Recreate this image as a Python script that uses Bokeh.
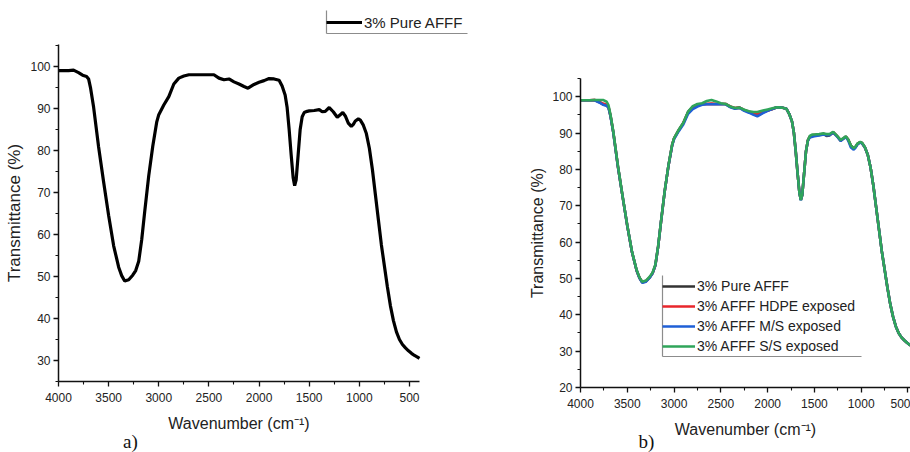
from bokeh.plotting import figure
from bokeh.models import Range1d, FixedTicker, Legend, LegendItem, Label, BoxAnnotation
from bokeh.layouts import row
from bokeh.embed import file_html
from bokeh.resources import INLINE

# ---------------- data ----------------
wavenumber = [4000, 3900, 3850, 3800, 3760, 3720, 3700, 3680, 3650, 3600, 3550, 3500,
              3450, 3400, 3370, 3340, 3300, 3260, 3230, 3200, 3170, 3140, 3100, 3060,
              3020, 3000, 2950, 2900, 2850, 2800, 2750, 2700, 2650, 2600, 2550, 2500,
              2450, 2400, 2350, 2300, 2250, 2200, 2150, 2110, 2050, 2000, 1950, 1900,
              1850, 1800, 1770, 1740, 1720, 1700, 1680, 1660, 1645, 1630, 1610, 1590,
              1570, 1550, 1520, 1500, 1450, 1400, 1370, 1340, 1300, 1260, 1220, 1190,
              1165, 1140, 1110, 1080, 1060, 1040, 1010, 990, 960, 930, 900, 870, 840,
              810, 780, 750, 720, 690, 660, 630, 600, 570, 540, 510, 480, 450, 420, 400]

pure_afff = [99, 99, 99.1, 98.5, 97.9, 97.6, 97, 94.8, 90.3, 80.8, 72.5, 64.5,
             57.3, 52.2, 50.2, 48.9, 49.2, 50.3, 51.4, 53.6, 58.8, 65.5, 74, 81,
             86.8, 88.5, 90.8, 92.8, 95.8, 97.2, 97.7, 98, 98, 98, 98, 98,
             98, 97.2, 96.8, 97, 96.3, 95.8, 95.2, 94.8, 95.7, 96.2, 96.6, 97.1,
             97, 96.7, 95.3, 93.2, 90.2, 85, 79, 73.5, 71.6, 73, 79, 85,
             88, 89, 89.3, 89.4, 89.5, 89.7, 89.2, 89.3, 90.2, 89.2, 87.9, 88.5,
             89, 88.2, 86.5, 85.7, 86.2, 87, 87.5, 87.2, 86, 84, 80.5, 75.5, 69.5,
             63.5, 57.5, 52.5, 47.5, 43, 39.5, 36.8, 35, 33.8, 33, 32.3, 31.7, 31.2, 30.8, 30.5]

hdpe_exposed = [99, 99, 99.1, 98.6, 98.1, 97.8, 97.1, 94.9, 90.3, 80.8, 72.5, 64.5,
                57.3, 52.2, 50.2, 49, 49.3, 50.3, 51.4, 53.6, 58.8, 65.5, 74, 81,
                86.8, 88.5, 90.8, 92.8, 95.7, 97.1, 97.6, 97.9, 98, 98.1, 98, 98,
                98, 97.3, 96.9, 97, 96.3, 95.9, 95.4, 95.1, 95.8, 96.2, 96.6, 97.1,
                97, 96.7, 95.3, 93.2, 90.2, 85, 79, 73.5, 71.7, 73, 79, 85,
                88, 89, 89.4, 89.5, 89.6, 89.8, 89.5, 89.5, 90.2, 89.2, 88, 88.5,
                89, 88.2, 86.5, 85.8, 86.2, 87, 87.5, 87.2, 86, 84, 80.5, 75.5, 69.5,
                63.5, 57.5, 52.5, 47.5, 43, 39.5, 36.8, 35, 33.8, 33, 32.3, 31.7, 31.2, 30.8, 30.5]

ms_exposed = [99, 99, 99, 98.4, 97.8, 97.5, 96.9, 94.7, 90.2, 80.7, 72.5, 64.5,
              57.3, 52.2, 50.1, 48.8, 49.1, 50.2, 51.4, 53.6, 58.8, 65.5, 74, 81,
              86.6, 88.3, 90.5, 92.4, 95.3, 96.6, 97.3, 97.8, 97.9, 97.9, 97.9, 97.9,
              97.9, 97.1, 96.7, 96.9, 96.1, 95.6, 95, 94.6, 95.5, 96.1, 96.6, 97.1,
              97, 96.7, 95.3, 93.2, 90.2, 85, 79, 73.5, 71.5, 73, 79, 85,
              87.8, 88.8, 89, 89.1, 89.3, 89.6, 89.4, 89.4, 90.1, 89.1, 87.8, 88.4,
              88.9, 88, 86, 85.4, 86, 86.9, 87.4, 87.1, 86, 84, 80.5, 75.5, 69.5,
              63.5, 57.5, 52.5, 47.5, 43, 39.5, 36.8, 35, 33.8, 33, 32.3, 31.7, 31.2, 30.8, 30.5]

ss_exposed = [99, 99, 99.1, 99.1, 99.1, 98.6, 97.6, 95.1, 90.5, 81, 72.6, 64.6,
              57.4, 52.3, 50.3, 49.1, 49.4, 50.5, 51.6, 53.8, 58.9, 65.6, 74.1, 81.1,
              86.9, 88.6, 90.9, 92.9, 95.9, 97.4, 98, 98.2, 98.8, 99.1, 98.7, 98.2,
              98, 97.3, 96.9, 97, 96.4, 96, 95.8, 95.8, 96.2, 96.5, 96.8, 97.1,
              97, 96.7, 95.3, 93.2, 90.2, 85, 79, 73.5, 71.6, 73, 79, 85,
              88, 89.2, 89.6, 89.6, 89.7, 89.9, 89.7, 89.7, 90.3, 89.3, 88.1, 88.6,
              89.1, 88.3, 86.6, 85.8, 86.3, 87.1, 87.6, 87.3, 86.1, 84, 80.5, 75.5, 69.5,
              63.5, 57.5, 52.5, 47.5, 43, 39.5, 36.8, 35, 33.8, 33, 32.3, 31.7, 31.2, 30.8, 30.5]

series_labels = ["3% Pure AFFF", "3% AFFF HDPE exposed", "3% AFFF M/S exposed", "3% AFFF S/S exposed"]
series_colors = ["#333333", "#e8262b", "#1f5fd6", "#2fa55a"]

x_ticks = [4000, 3500, 3000, 2500, 2000, 1500, 1000, 500]
x_minor = [3750, 3250, 2750, 2250, 1750, 1250, 750]
ya_ticks = [30, 40, 50, 60, 70, 80, 90, 100]
yb_ticks = [20, 30, 40, 50, 60, 70, 80, 90, 100]
y_minor = [25, 35, 45, 55, 65, 75, 85, 95, 105]

FONT = "Liberation Sans"
H = 452
W_A, W_B = 480, 430


def make_fig(width, frame_left, frame_right, frame_top, frame_bottom,
             x_lo, x_hi, y_lo, y_hi, yticks):
    """Figure whose frame is the whole canvas; axes are drawn at fixed data locations
    so that legends and panel letters can sit around the axes box."""
    xs = (frame_right - frame_left) / (x_lo - x_hi)      # px per unit (reversed axis)
    ys = (frame_bottom - frame_top) / (y_hi - y_lo)
    xr = Range1d(x_lo + frame_left / xs, x_hi - (width - frame_right) / xs)
    yr = Range1d(y_lo - (H - frame_bottom) / ys, y_hi + frame_top / ys)
    p = figure(width=width, height=H, output_backend="svg", toolbar_location=None,
               x_range=xr, y_range=yr, min_border=0)
    p.grid.visible = False
    p.outline_line_color = None
    p.background_fill_color = "white"
    p.border_fill_color = "white"
    p.xaxis.fixed_location = y_lo
    p.yaxis.fixed_location = x_lo
    p.xaxis.bounds = (x_hi, x_lo)
    p.yaxis.bounds = (y_lo, y_hi)
    p.xaxis.ticker = FixedTicker(ticks=x_ticks, minor_ticks=x_minor)
    p.yaxis.ticker = FixedTicker(ticks=yticks, minor_ticks=y_minor)
    for ax in (p.xaxis, p.yaxis):
        ax.axis_line_width = 1.5
        ax.axis_line_color = "#111111"
        ax.major_tick_line_color = "#111111"
        ax.minor_tick_line_color = "#111111"
        ax.major_tick_line_width = 1.3
        ax.minor_tick_line_width = 1.1
        ax.major_tick_in = 0
        ax.major_tick_out = 5
        ax.minor_tick_in = 0
        ax.minor_tick_out = 3
        ax.major_label_text_font = FONT
        ax.major_label_text_font_size = "12px"
        ax.major_label_text_color = "#222222"
        ax.axis_label_text_font = FONT
        ax.axis_label_text_font_style = "normal"
        ax.axis_label_text_color = "#222222"
    p.xaxis.major_label_standoff = 6
    p.xaxis.axis_label_standoff = 10
    p.xaxis.axis_label_text_font_size = "16px"
    p.yaxis.major_label_standoff = 3
    p.yaxis.axis_label_standoff = 3
    p.xaxis.axis_label = "Wavenumber (cm\u207b\u00b9)"
    p.yaxis.axis_label = "Transmittance (%)"
    return p


def legend_edges(p, left, right, top, bottom):
    """Left and bottom rules of an Origin-style legend box (screen px from figure top-left)."""
    kw = dict(left_units="screen", right_units="screen", top_units="screen",
              bottom_units="screen", fill_color="#8c8c8c", fill_alpha=1.0, line_color=None)
    p.add_layout(BoxAnnotation(left=left - 0.6, right=left + 0.6, top=H - top, bottom=H - bottom, **kw))
    p.add_layout(BoxAnnotation(left=left, right=right, top=H - bottom + 0.6, bottom=H - bottom - 0.6, **kw))


# ---------------- panel a ----------------
pa = make_fig(W_A, 58, 419, 44, 381, 4000, 400, 25, 105.2, ya_ticks)
pa.yaxis.axis_label_text_font_size = "17px"
ra = pa.line(wavenumber, pure_afff, line_color="#000000", line_width=3.2)
leg_a = Legend(items=[LegendItem(label=series_labels[0], renderers=[ra])],
               location=(326, H - 33), orientation="vertical",
               label_text_font=FONT, label_text_font_size="15px", label_text_color="#222222",
               glyph_width=36, glyph_height=22, label_height=22, label_standoff=2,
               padding=1, margin=0, spacing=0,
               border_line_color=None, background_fill_alpha=0)
pa.add_layout(leg_a, "center")
legend_edges(pa, 326, 467, 10, 33)
pa.add_layout(Label(x=130, y=1, x_units="screen", y_units="screen", text="a)",
                    text_font="Liberation Serif", text_font_size="19px", text_color="#111111",
                    text_align="center", text_baseline="bottom"))

# ---------------- panel b ----------------
pb = make_fig(W_B, 100, 100 + 3500 * 0.09357, 78, 387, 4000, 500, 20, 105, yb_ticks)
pb.xaxis.bounds = (400, 4000)
pb.yaxis.axis_label_text_font_size = "16px"
renderers = []
for ys_, col in zip([pure_afff, hdpe_exposed, ms_exposed, ss_exposed], series_colors):
    renderers.append(pb.line(wavenumber, ys_, line_color=col, line_width=2.6))
leg_b = Legend(items=[LegendItem(label=l, renderers=[r]) for l, r in zip(series_labels, renderers)],
               location=(182, H - 356), orientation="vertical",
               label_text_font=FONT, label_text_font_size="14px", label_text_color="#222222",
               glyph_width=33, glyph_height=20, label_height=20, label_standoff=2,
               padding=1, margin=0, spacing=0,
               border_line_color=None, background_fill_alpha=0)
pb.add_layout(leg_b, "center")
legend_edges(pb, 182, 381, 275, 356)
pb.add_layout(Label(x=166, y=1, x_units="screen", y_units="screen", text="b)",
                    text_font="Liberation Serif", text_font_size="19px", text_color="#111111",
                    text_align="center", text_baseline="bottom"))

layout = row(pa, pb)
open("out.html", "w").write(file_html(layout, INLINE))
